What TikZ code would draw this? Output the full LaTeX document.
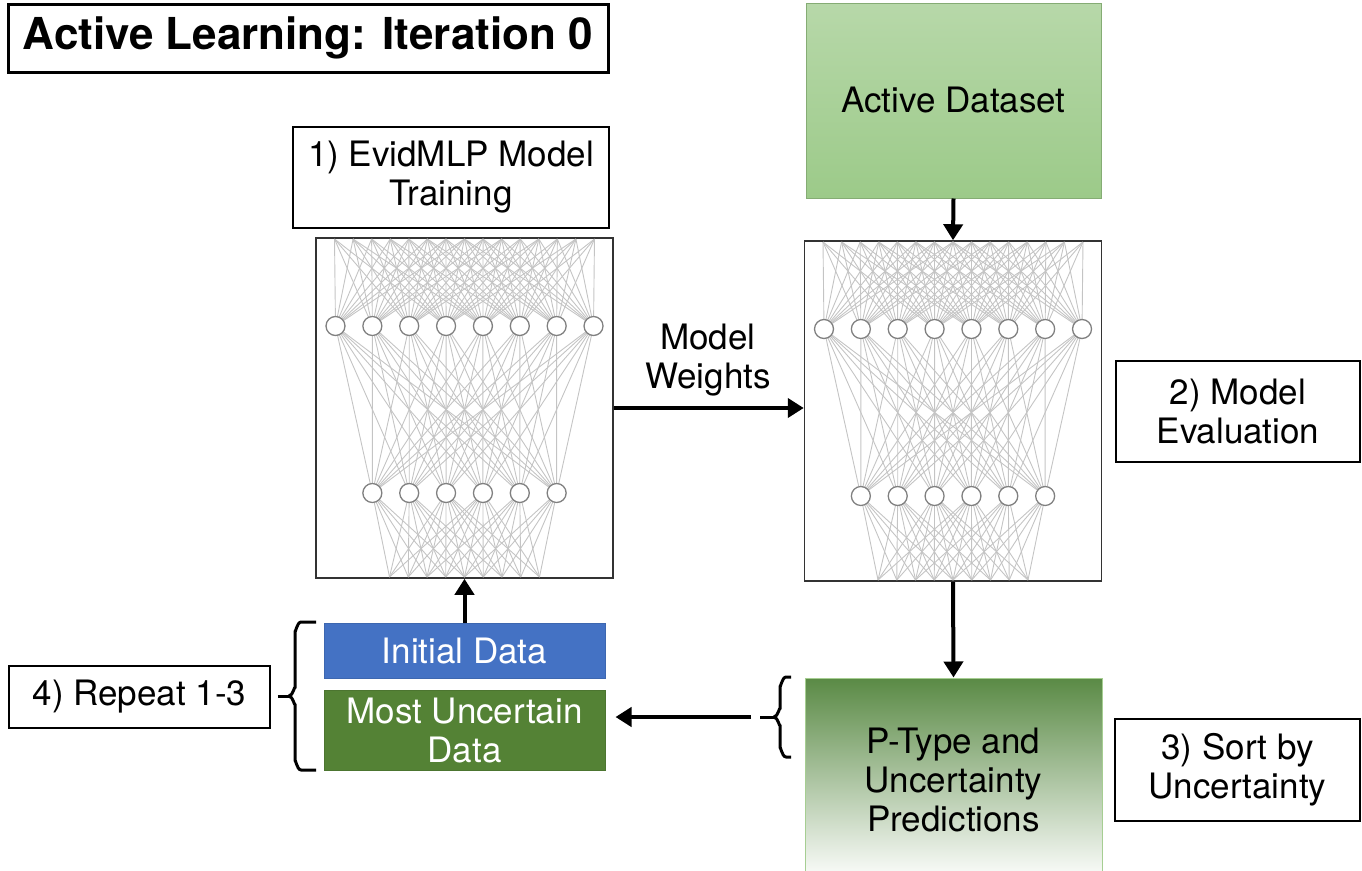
\documentclass[tikz,border=0pt]{standalone}
\usepackage{fontspec}
\setmainfont{TeX Gyre Heros}
\usetikzlibrary{arrows.meta}

\definecolor{initblue}{HTML}{4472C4}
\definecolor{uncgreen}{HTML}{548235}
\definecolor{dsetlight}{HTML}{B7D8A9}
\definecolor{dsetdark}{HTML}{9CCA89}
\definecolor{predtop}{HTML}{5A8A45}
\definecolor{predmid}{HTML}{A6CE92}
\definecolor{wiregray}{HTML}{C4C4C4}

% one small MLP drawing: name, centre x, top y
\newcommand{\mlpnet}[3]{%
  \node[netbox] (#1) at (#2,#3+170) {};
  \foreach \i in {0,...,14} \coordinate (#1-in\i) at (#2-130+18.57*\i,#3+1);
  \foreach \k in {0,...,7} \coordinate (#1-u\k) at (#2-129+36.86*\k,#3+88);
  \foreach \j in {0,...,5} \coordinate (#1-d\j) at (#2-92.15+36.86*\j,#3+255);
  \foreach \m in {0,...,8} \coordinate (#1-out\m) at (#2-75+18.75*\m,#3+339);
  \foreach \k in {0,...,7} \foreach \i in {0,...,14} {
    \pgfmathsetmacro\wdx{abs(36.86*\k-18.57*\i+1)}
    \ifdim\wdx pt<140pt \draw[wire] (#1-in\i) -- (#1-u\k); \fi}
  \foreach \k in {0,...,7} \foreach \j in {0,...,5} \draw[wire] (#1-u\k) -- (#1-d\j);
  \foreach \j in {0,...,5} \foreach \m in {0,...,8} {
    \pgfmathsetmacro\wdx{abs(36.86*\j-92.15-18.75*\m+75)}
    \ifdim\wdx pt<100pt \draw[wire] (#1-d\j) -- (#1-out\m); \fi}
  \foreach \k in {0,...,7} \node[neuron] (#1-nu\k) at (#1-u\k) {};
  \foreach \j in {0,...,5} \node[neuron] (#1-nd\j) at (#1-d\j) {};
}

% square-ish curly bracket opening to the right: tip coordinate, half height, depth
\newcommand{\bracket}[3]{%
  \draw[stub, line join=round] ([shift={(#3,-#2)}]#1) -- ([shift={(12,-#2)}]#1)
    to[out=180,in=-90] ([shift={(6,-#2+9)}]#1) -- ([shift={(6,-8)}]#1)
    to[out=90,in=0] (#1) to[out=0,in=-90] ([shift={(6,8)}]#1)
    -- ([shift={(6,#2-9)}]#1) to[out=90,in=180] ([shift={(12,#2)}]#1) -- ([shift={(#3,#2)}]#1);
}

\begin{document}
\begin{tikzpicture}[x=1pt,y=-1pt]
    \tikzset{
      txt/.style={align=center, inner sep=0pt, font=\fontsize{35}{39}\selectfont},
      lbl/.style={txt, draw=black, line width=1.5pt},
      headbox/.style={draw=black, line width=3pt, inner sep=0pt, minimum width=600pt, minimum height=68pt, font=\bfseries\fontsize{44}{50}\selectfont},
      netbox/.style={draw=black!80, line width=1.5pt, minimum width=297pt, minimum height=340pt, inner sep=0pt},
      neuron/.style={circle, draw=black!50, fill=white, line width=1.3pt, minimum size=19pt, inner sep=0pt},
      wire/.style={draw=wiregray, line width=0.9pt},
      flow/.style={line width=4pt, -{Triangle[width=19pt,length=16pt]}},
      stub/.style={line width=3pt}
    }
    \useasboundingbox (0,0) rectangle (1362,870);

    \node[headbox] (head) at (308,38) {Active Learning: Iteration 0};

    \node[lbl, minimum width=316pt, minimum height=101pt] (train) at (451,177.5) {1) EvidMLP Model\\Training};
    \node[lbl, minimum width=244pt, minimum height=101pt] (evalbox) at (1238,411.5) {2) Model\\Evaluation};
    \node[lbl, minimum width=245pt, minimum height=102pt] (sortbox) at (1237.5,770) {3) Sort by\\Uncertainty};
    \node[lbl, minimum width=261pt, minimum height=62pt] (repeat) at (139.5,697) {4) Repeat 1-3};

    \node[txt, draw=dsetdark!85!black, line width=1pt, top color=dsetlight, bottom color=dsetdark,
          minimum width=295pt, minimum height=195pt] (dset) at (953.5,100.5) {Active Dataset};

    \mlpnet{lnet}{464.5}{238}
    \mlpnet{rnet}{953}{241}

    \node[txt] (weights) at (708,360) {Model\\Weights};

    \node[txt, text=white, fill=initblue, draw=initblue!90!black, line width=1pt,
          minimum width=281pt, minimum height=55pt] (init) at (464.5,650.5) {Initial Data};
    \node[txt, text=white, fill=uncgreen, draw=uncgreen!90!black, line width=1pt,
          minimum width=281pt, minimum height=80pt] (unc) at (464.5,730) {Most Uncertain\\Data};

    \node[txt, draw=predmid, line width=1pt, top color=predtop, middle color=predmid, bottom color=white,
          minimum width=297pt, minimum height=204pt] (pred) at (953.5,780) {P-Type and\\Uncertainty\\Predictions};

    \draw[flow] (dset.south) -- (rnet.north);
    \draw[flow] (lnet.east) -- (lnet.east -| rnet.west);
    \draw[flow] (rnet.south) -- (pred.north);
    \draw[flow] (init.north) -- (lnet.south);

    \coordinate (predtail) at (751,717);
    \draw[flow, shorten >=10pt] (predtail) -- (predtail -| unc.east);

    \coordinate (ltip) at (289,696);
    \bracket{ltip}{74}{27}
    \draw[stub] ([xshift=7pt]repeat.east |- ltip) -- (ltip);

    \coordinate (rtip) at (774,717);
    \bracket{rtip}{40}{17}
    \draw[stub] ([xshift=-14pt]rtip) -- (rtip);
\end{tikzpicture}
\end{document}
